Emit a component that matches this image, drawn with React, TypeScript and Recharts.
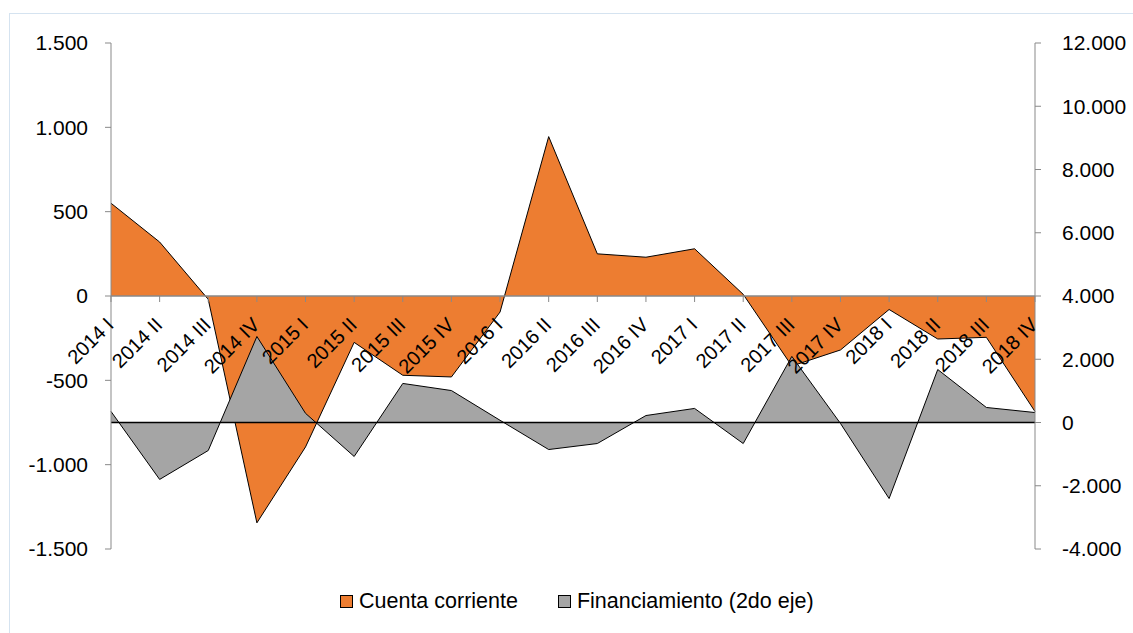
import React from 'react';
import { AreaChart, Area, XAxis, YAxis, ReferenceLine } from 'recharts';

const quarters = [
  '2014 I', '2014 II', '2014 III', '2014 IV',
  '2015 I', '2015 II', '2015 III', '2015 IV',
  '2016 I', '2016 II', '2016 III', '2016 IV',
  '2017 I', '2017 II', '2017 III', '2017 IV',
  '2018 I', '2018 II', '2018 III', '2018 IV',
];
const cuentaCorriente = [550, 320, -20, -1345, -895, -275, -470, -480, -95, 945, 250, 230, 280, 10, -415, -320, -80, -255, -245, -685];
const financiamiento = [350, -1800, -885, 2720, 290, -1075, 1235, 1010, 70, -855, -665, 220, 445, -665, 2090, -30, -2405, 1675, 475, 315];
const leftTicks = [-1500, -1000, -500, 0, 500, 1000, 1500];
const rightTicks = [-4000, -2000, 0, 2000, 4000, 6000, 8000, 10000, 12000];

const data = quarters.map((q, i) => ({ q, cuenta: cuentaCorriente[i], fin: financiamiento[i] }));

const W = 1133;
const H = 633;
const MARGIN = { top: 43, right: 8, bottom: 83, left: 0 };
const X_AXIS_H = 1;
const PLOT_H = H - MARGIN.top - MARGIN.bottom - X_AXIS_H;
const LEFT_MIN = -1500;
const LEFT_MAX = 1500;
const ZERO_Y = MARGIN.top + (PLOT_H * LEFT_MAX) / (LEFT_MAX - LEFT_MIN);

const FONT = '"Liberation Sans", Arial, sans-serif';
const AXIS_GRAY = '#898989';
const ORANGE = '#ED7D31';
const GRAY = '#A5A5A5';

const fmt = (v: number) => String(v).replace(/\B(?=(\d{3})+(?!\d))/g, '.');

// x axis sits on the zero line of the left axis, labels turned -45deg
const CategoryTick = (props: any) => {
  const { x, payload } = props;
  const tx = x + 4;
  const ty = ZERO_Y + 30;
  return (
    <g>
      <line x1={x} x2={x} y1={ZERO_Y} y2={ZERO_Y + 6} stroke={AXIS_GRAY} />
      <text
        x={tx}
        y={ty}
        transform={`rotate(-45 ${tx} ${ty})`}
        textAnchor="end"
        fontSize={20}
        fontFamily={FONT}
        fill="#000"
      >
        {payload.value}
      </text>
    </g>
  );
};

const LegendItem = ({ color, label }: { color: string; label: string }) => (
  <div style={{ display: 'flex', alignItems: 'center' }}>
    <span style={{ width: 11, height: 11, background: color, border: '1px solid #000', marginRight: 6 }} />
    <span>{label}</span>
  </div>
);

export default function App() {
  return (
    <div style={{ position: 'absolute', left: 0, top: 0, width: W, height: H, background: '#fff', overflow: 'hidden' }}>
      <div style={{ position: 'absolute', left: 9, top: 13, width: 1300, height: 800, border: '1px solid #d5e3f0' }} />
      <div style={{ position: 'absolute', left: 0, top: 0 }}>
        <AreaChart width={W} height={H} data={data} margin={MARGIN}>
          <YAxis
            yAxisId="left"
            width={111}
            domain={[LEFT_MIN, LEFT_MAX]}
            ticks={leftTicks}
            interval={0}
            tickFormatter={fmt}
            axisLine={{ stroke: AXIS_GRAY }}
            tickLine={{ stroke: AXIS_GRAY }}
            tickSize={6}
            tickMargin={17}
            tick={{ fill: '#000', fontSize: 21, fontFamily: FONT }}
            allowDataOverflow
          />
          <YAxis
            yAxisId="right"
            orientation="right"
            width={90}
            domain={[-4000, 12000]}
            ticks={rightTicks}
            interval={0}
            tickFormatter={fmt}
            axisLine={{ stroke: AXIS_GRAY }}
            tickLine={{ stroke: AXIS_GRAY }}
            tickSize={6}
            tickMargin={21}
            tick={{ fill: '#000', fontSize: 21, fontFamily: FONT }}
            allowDataOverflow
          />
          <Area
            yAxisId="left"
            type="linear"
            dataKey="cuenta"
            name="Cuenta corriente"
            stroke="#000"
            strokeWidth={1}
            fill={ORANGE}
            fillOpacity={1}
            baseValue={0}
            dot={false}
            activeDot={false}
            isAnimationActive={false}
          />
          <Area
            yAxisId="right"
            type="linear"
            dataKey="fin"
            name="Financiamiento (2do eje)"
            stroke="#000"
            strokeWidth={1}
            fill={GRAY}
            fillOpacity={1}
            baseValue={0}
            dot={false}
            activeDot={false}
            isAnimationActive={false}
          />
          <ReferenceLine yAxisId="left" y={0} stroke={AXIS_GRAY} strokeWidth={1.5} />
          <ReferenceLine yAxisId="right" y={0} stroke="#000" strokeWidth={1.5} />
          <XAxis
            dataKey="q"
            scale="point"
            padding={{ left: 0, right: 0 }}
            height={X_AXIS_H}
            interval={0}
            axisLine={false}
            tickLine={false}
            tick={<CategoryTick />}
          />
        </AreaChart>
      </div>
      <div
        style={{
          position: 'absolute',
          left: 340,
          top: 589,
          display: 'flex',
          gap: 40,
          fontFamily: FONT,
          fontSize: 21.5,
          color: '#000',
        }}
      >
        <LegendItem color={ORANGE} label="Cuenta corriente" />
        <LegendItem color={GRAY} label="Financiamiento (2do eje)" />
      </div>
    </div>
  );
}
